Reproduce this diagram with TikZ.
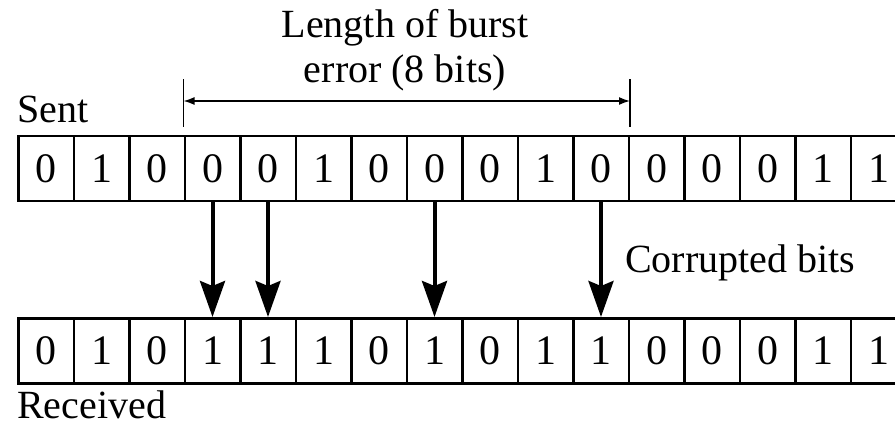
\documentclass[tikz,border=0pt]{standalone}
\usepackage{fontspec}
\setmainfont{Liberation Serif}
\usetikzlibrary{arrows.meta}
\begin{document}
\begin{tikzpicture}[x=1pt,y=-1pt,
  cell/.style={draw, line width=2.5pt, minimum width=55.5pt, minimum height=65pt, inner sep=0pt, font=\fontsize{42}{42}\selectfont, anchor=north west},
  lbl/.style={font=\fontsize{40}{44}\selectfont, inner sep=0pt},
  err/.style={line width=4pt, -{Stealth[length=36pt,width=25pt,inset=5pt]}},
  span/.style={line width=1.5pt},
]
\clip (0,0) rectangle (895,425);
\foreach \b [count=\i] in {0,1,0,0,0,1,0,0,0,1,0,0,0,0,1,1} {
  \node[cell] (s\i) at ({17+55.5*(\i-1)},135) {\b};
}
\foreach \b [count=\i] in {0,1,0,1,1,1,0,1,0,1,1,0,0,0,1,1} {
  \node[cell] (r\i) at ({17+55.5*(\i-1)},317) {\b};
}
\foreach \i in {4,5,8,11} {
  \draw[err] (s\i.south) -- (r\i.north);
}
\coordinate (tl) at ([yshift=8pt]s4.north west);
\coordinate (tr) at ([yshift=8pt]s11.north east);
\draw[span] (tl) -- ++(0,-48);
\draw[span] (tr) -- ++(0,-48);
\coordinate (al) at ([yshift=34pt]s4.north west);
\coordinate (ar) at ([yshift=34pt]s11.north east);
\draw[span, {Latex[length=11pt,width=8pt]}-{Latex[length=11pt,width=8pt]}] (al) -- (ar);
\node[lbl, anchor=base] (len1) at (405,38) {Length of burst};
\node[lbl, anchor=base] (len2) at (405,83) {error (8 bits)};
\node[lbl, anchor=base west] (sent) at (17,123) {Sent};
\node[lbl, anchor=base west] (recv) at (17,418) {Received};
\node[lbl, anchor=base west] (corr) at (625,272) {Corrupted bits};
\end{tikzpicture}
\end{document}
